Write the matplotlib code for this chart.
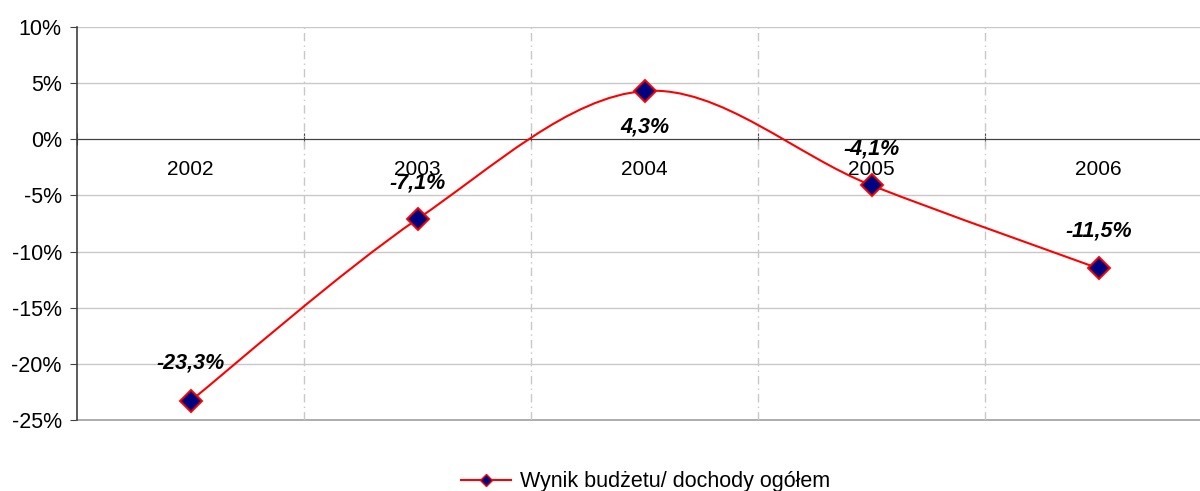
import matplotlib.pyplot as plt
from matplotlib.path import Path
from matplotlib.patches import PathPatch
from matplotlib.ticker import FuncFormatter, FixedLocator, NullFormatter

plt.rcParams['font.family'] = ['Liberation Sans', 'DejaVu Sans']

years = ['2002', '2003', '2004', '2005', '2006']
values = [-23.3, -7.1, 4.3, -4.1, -11.5]
labels = ['-23,3%', '-7,1%', '4,3%', '-4,1%', '-11,5%']
label_dy = [27, 26, -26, 26, 27]   # offset in points (above / below marker)
series_name = 'Wynik budżetu/ dochody ogółem'

fig = plt.figure(figsize=(12, 4.91), dpi=100)
ax = fig.add_axes([0.0642, 0.1446, 0.9458, 0.8004])

x = list(range(len(values)))

# smoothed line like Excel (Bezier with Catmull-Rom control points)
verts = [(x[0], values[0])]
codes = [Path.MOVETO]
n = len(values)
for i in range(n - 1):
    p0 = values[max(i - 1, 0)]
    p1 = values[i]
    p2 = values[i + 1]
    p3 = values[min(i + 2, n - 1)]
    x0 = x[max(i - 1, 0)]
    x3 = x[min(i + 2, n - 1)]
    c1 = (x[i] + (x[i + 1] - x0) / 6, p1 + (p2 - p0) / 6)
    c2 = (x[i + 1] - (x3 - x[i]) / 6, p2 - (p3 - p1) / 6)
    verts += [c1, c2, (x[i + 1], p2)]
    codes += [Path.CURVE4] * 3
ax.add_patch(PathPatch(Path(verts, codes), facecolor='none', edgecolor='#FF0000',
                       lw=1.5, zorder=3))

ax.plot(x, values, linestyle='none', marker='D', markersize=11.5,
        markerfacecolor='#000080', markeredgecolor='#FF0000', markeredgewidth=1.4,
        zorder=4)

for xi, v, lab, dy in zip(x, values, labels, label_dy):
    ax.annotate(lab, (xi, v), xytext=(0, dy), textcoords='offset points',
                ha='center', va='center', fontsize=15.5, fontweight='bold',
                fontstyle='italic', zorder=5)

ax.set_xlim(-0.5, n - 0.5)
ax.set_ylim(-25, 10)
ax.set_yticks(range(-25, 11, 5))
ax.yaxis.set_major_formatter(FuncFormatter(lambda v, p: f'{int(v)}%'))
ax.tick_params(axis='y', labelsize=15.5, length=5, color='#404040', pad=6)

# horizontal gridlines
ax.yaxis.grid(True, color='#C8C8C8', lw=1)
ax.axhline(-25, color='#A0A0A0', lw=1.2, clip_on=False, zorder=1)
# vertical dashed separators
for b in range(n - 1):
    ax.axvline(b + 0.5, color='#C8C8C8', lw=1, ls=(0, (6, 3, 1, 3)), zorder=1)

# category axis crossing at zero
ax.spines['bottom'].set_position(('data', 0))
ax.spines['bottom'].set_color('#404040')
ax.spines['left'].set_color('#404040')
ax.spines['left'].set_linewidth(1.2)
ax.spines['top'].set_visible(False)
ax.spines['right'].set_visible(False)
ax.xaxis.set_major_locator(FixedLocator([b + 0.5 for b in range(-1, n)]))
ax.xaxis.set_major_formatter(NullFormatter())
ax.xaxis.set_minor_locator(FixedLocator(x))
ax.set_xticklabels(years, minor=True)
ax.tick_params(axis='x', which='major', direction='inout', length=8, color='#404040')
ax.tick_params(axis='x', which='minor', length=0, labelsize=15, pad=15)
ax.set_axisbelow(True)

h, = ax.plot([], [], color='#FF0000', lw=1.5, marker='D', markersize=6,
             markerfacecolor='#000080', markeredgecolor='#FF0000', markeredgewidth=1)
fig.legend([h], [series_name], loc='center', bbox_to_anchor=(0.538, 1 - 482 / 491),
           frameon=False, fontsize=15.5, handlelength=2.3, handletextpad=0.4)

fig.savefig('out.png', dpi=100)
